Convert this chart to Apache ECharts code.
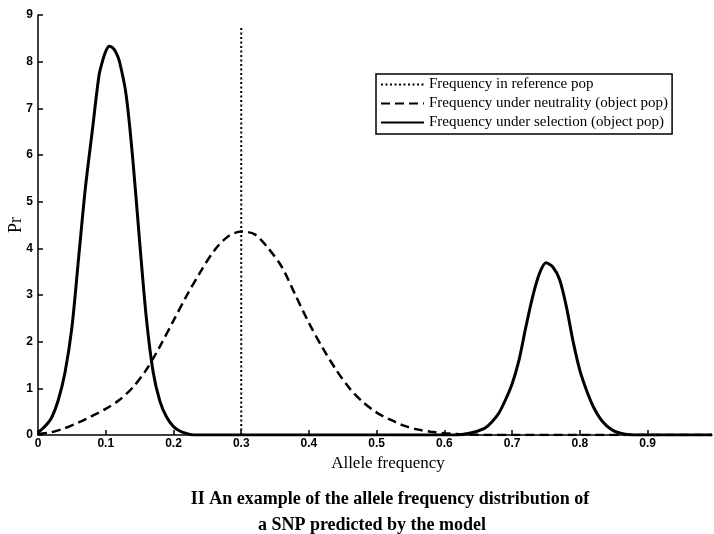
<!DOCTYPE html>
<html>
<head>
<meta charset="utf-8">
<script src="https://cdn.jsdelivr.net/npm/echarts@6/dist/echarts.min.js"></script>
<style>
  html, body { margin: 0; padding: 0; background: #fff; }
  #chart { width: 714px; height: 534px; }
</style>
</head>
<body>
<div id="chart"></div>
<script>
// reference pop frequency (vertical dotted line)
const refX = [0.3, 0.3]
const refY = [0, 8.75]

// neutrality curve (dashed)
const neuX = [0, 0.02, 0.04, 0.06, 0.08, 0.10, 0.12, 0.14, 0.16, 0.18, 0.20, 0.22, 0.24, 0.26, 0.28, 0.30,
  0.32, 0.34, 0.36, 0.38, 0.40, 0.42, 0.44, 0.46, 0.48, 0.50, 0.52, 0.54, 0.56, 0.58, 0.60, 0.62, 0.64, 0.66, 0.8, 0.995]
const neuY = [0.02, 0.06, 0.15, 0.27, 0.41, 0.56, 0.75, 1.02, 1.4, 1.9, 2.45, 3.0, 3.5, 3.95, 4.25, 4.36,
  4.3, 4.0, 3.6, 3.0, 2.4, 1.87, 1.4, 1.0, 0.7, 0.48, 0.33, 0.2, 0.12, 0.07, 0.04, 0.02, 0.01, 0, 0, 0]

// selection curve (solid)
const selX = [0, 0.01, 0.02, 0.03, 0.04, 0.05, 0.06, 0.07, 0.08, 0.09, 0.095, 0.10, 0.105, 0.11, 0.115, 0.12, 0.13, 0.14,
  0.15, 0.16, 0.17, 0.18, 0.19, 0.20, 0.21, 0.22, 0.23, 0.3, 0.4, 0.5, 0.6, 0.62,
  0.63, 0.64, 0.65, 0.66, 0.67, 0.68, 0.69, 0.70, 0.71, 0.72, 0.73, 0.74, 0.75, 0.76, 0.77, 0.78,
  0.79, 0.80, 0.81, 0.82, 0.83, 0.84, 0.85, 0.86, 0.87, 0.88, 0.9, 0.995]
const selY = [0.05, 0.18, 0.37, 0.75, 1.35, 2.3, 3.8, 5.3, 6.5, 7.7, 8.0, 8.22, 8.33, 8.3, 8.2, 8.02, 7.3, 5.9,
  4.15, 2.5, 1.35, 0.72, 0.38, 0.18, 0.08, 0.03, 0, 0, 0, 0, 0, 0,
  0.02, 0.05, 0.09, 0.15, 0.28, 0.46, 0.75, 1.1, 1.6, 2.3, 2.95, 3.45, 3.69, 3.6, 3.33, 2.75,
  2.0, 1.38, 0.95, 0.6, 0.35, 0.19, 0.09, 0.04, 0.01, 0, 0, 0]

const xTicks = [0, 0.1, 0.2, 0.3, 0.4, 0.5, 0.6, 0.7, 0.8, 0.9]

const zip = (xs, ys) => xs.map((x, i) => [x, ys[i]])

const chart = echarts.init(document.getElementById('chart'))

const serif = 'Liberation Serif'
const sans = 'Liberation Sans'

const option = {
  animation: false,
  backgroundColor: '#fff',
  title: [
    {
      text: 'II An example of the allele frequency distribution of',
      left: 385,
      top: 485,
      textAlign: 'center',
      textStyle: { fontFamily: serif, fontWeight: 'bold', fontSize: 18, color: '#000' }
    },
    {
      text: 'a SNP predicted by the model',
      left: 367,
      top: 511,
      textAlign: 'center',
      textStyle: { fontFamily: serif, fontWeight: 'bold', fontSize: 18, color: '#000' }
    }
  ],
  legend: {
    orient: 'vertical',
    left: 376,
    top: 74,
    padding: [3, 4, 4, 4],
    itemGap: 4,
    itemWidth: 43,
    itemHeight: 14,
    borderColor: '#000',
    borderWidth: 1.5,
    // hide the round marker, keep only the line sample
    itemStyle: { opacity: 0 },
    textStyle: { fontFamily: serif, fontSize: 15, color: '#000' },
    data: [
      'Frequency in reference pop',
      'Frequency under neutrality (object pop)',
      'Frequency under selection (object pop)'
    ]
  },
  grid: {
    left: 38,
    right: 2,
    top: 15,
    bottom: 99,
    containLabel: false,
    outerBoundsMode: 'none'
  },
  xAxis: {
    type: 'value',
    min: 0,
    max: 0.995,
    name: 'Allele frequency',
    nameLocation: 'middle',
    nameGap: 20,
    nameTextStyle: { fontFamily: serif, fontSize: 17, color: '#000', padding: [0, 0, 0, 26] },
    axisLine: { lineStyle: { color: '#000', width: 1.5 } },
    axisTick: { inside: true, length: 5, customValues: xTicks, lineStyle: { color: '#000', width: 1.5 } },
    axisLabel: {
      customValues: xTicks,
      margin: 3,
      fontFamily: sans,
      fontWeight: 'bold',
      fontSize: 12,
      color: '#000'
    },
    splitLine: { show: false }
  },
  yAxis: {
    type: 'value',
    min: 0,
    max: 9,
    interval: 1,
    name: 'Pr',
    nameLocation: 'middle',
    nameGap: 13,
    nameMoveOverlap: false,
    nameTextStyle: { fontFamily: serif, fontSize: 18, color: '#000' },
    axisLine: { show: true, lineStyle: { color: '#000', width: 1.5 } },
    axisTick: { show: true, inside: true, length: 5, lineStyle: { color: '#000', width: 1.5 } },
    axisLabel: { margin: 5, fontFamily: sans, fontWeight: 'bold', fontSize: 12, color: '#000' },
    splitLine: { show: false }
  },
  series: [
    {
      name: 'Frequency in reference pop',
      type: 'line',
      symbol: 'none',
      data: zip(refX, refY),
      lineStyle: { color: '#000', width: 2, type: [2, 2.5] }
    },
    {
      name: 'Frequency under neutrality (object pop)',
      type: 'line',
      symbol: 'none',
      smooth: 0.3,
      data: zip(neuX, neuY),
      lineStyle: { color: '#000', width: 2.5, type: [9, 5] }
    },
    {
      name: 'Frequency under selection (object pop)',
      type: 'line',
      symbol: 'none',
      smooth: 0.3,
      data: zip(selX, selY),
      lineStyle: { color: '#000', width: 3 }
    }
  ]
}

chart.setOption(option)
</script>
</body>
</html>
